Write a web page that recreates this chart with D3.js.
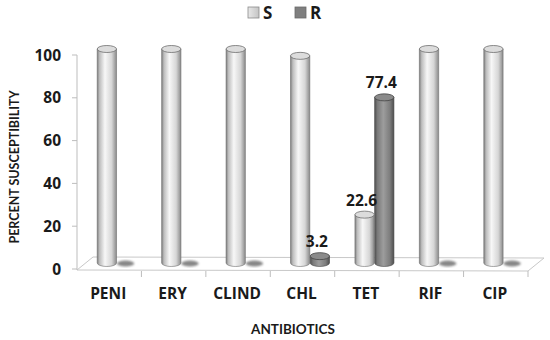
<!DOCTYPE html>
<html>
<head>
<meta charset="utf-8">
<script src="https://cdn.jsdelivr.net/npm/d3@7.9.0/dist/d3.min.js"></script>
<style>
  html, body { margin: 0; padding: 0; background: #fff; }
  svg { display: block; font-family: Lato, "Open Sans", sans-serif; }
  .big { font-family: "Open Sans", Lato, sans-serif; font-weight: bold; fill: #1a1a1a; }
</style>
</head>
<body>
<svg id="chart" width="550" height="340"></svg>
<script>
// --- Data ---
const categories = ['PENI', 'ERY', 'CLIND', 'CHL', 'TET', 'RIF', 'CIP'];
const seriesNames = ['S', 'R'];
const sValues = [100, 100, 100, 96.8, 22.6, 100, 100];
const rValues = [0, 0, 0, 3.2, 77.4, 0, 0];
const yTicks = [0, 20, 40, 60, 80, 100];
// labels shown above bars: [category, series, text]
const valueLabels = [['CHL', 'R', '3.2'], ['TET', 'S', '22.6'], ['TET', 'R', '77.4']];

const svg = d3.select('#chart');

// --- Scales ---
const x0 = d3.scaleBand().domain(categories).range([77, 528]);
const x1 = d3.scaleBand().domain(seriesNames).range([0, 39]).paddingInner(0.02);
const y = d3.scaleLinear().domain([0, 100]).range([269, 55]);

// 3D depth offset (bars stand mid-depth on the floor)
const dx = 8, dy = -6;
const depthX = 16, depthY = -12;
const rx = x1.bandwidth() / 2, ry = 3.5;

const barCenter = (cat, s) => x0(cat) + x0.bandwidth() / 2 - 20 + dx + x1(s) + rx;

// --- Gradients ---
const defs = svg.append('defs');
function cylGrad(id, stops) {
  const g = defs.append('linearGradient').attr('id', id)
    .attr('x1', '0%').attr('x2', '100%').attr('y1', '0%').attr('y2', '0%');
  stops.forEach(([o, c]) => g.append('stop').attr('offset', o).attr('stop-color', c));
}
cylGrad('gS', [['0%', '#7d7d7d'], ['12%', '#bdbdbd'], ['40%', '#f7f7f7'], ['75%', '#d6d6d6'], ['100%', '#8a8a8a']]);
cylGrad('gR', [['0%', '#505050'], ['15%', '#7a7a7a'], ['45%', '#9d9d9d'], ['80%', '#7c7c7c'], ['100%', '#4e4e4e']]);
cylGrad('gLegS', [['0%', '#e8e8e8'], ['100%', '#c4c4c4']]);
defs.append('filter').attr('id', 'blur').append('feGaussianBlur').attr('stdDeviation', 1.3);

// --- Floor ---
const [fx0, fx1] = x0.range();
const fy = y(0);
svg.append('path')
  .attr('d', `M${fx0},${fy + 1}L${fx1},${fy + 2}L${fx1 + depthX},${fy + depthY + 1}L${fx0 + depthX},${fy + depthY}Z`)
  .attr('fill', '#fff').attr('stroke', '#c8c8c8').attr('stroke-width', 1);

// --- Y axis ---
svg.append('line').attr('x1', 77).attr('x2', 77).attr('y1', y(100)).attr('y2', y(0) + 1)
  .attr('stroke', '#bdbdbd');
const yg = svg.append('g');
yTicks.forEach(t => {
  yg.append('line').attr('x1', 72).attr('x2', 77).attr('y1', y(t)).attr('y2', y(t)).attr('stroke', '#bdbdbd');
  yg.append('text').attr('class', 'big').attr('x', 61).attr('y', y(t)).attr('dy', '0.36em')
    .attr('text-anchor', 'end').attr('font-size', 15.5).text(t);
});

// --- Category ticks and labels ---
const xg = svg.append('g');
categories.forEach(c => {
  const xr = x0(c) + x0.bandwidth();
  xg.append('line').attr('x1', xr).attr('x2', xr).attr('y1', fy + 2).attr('y2', fy + 8).attr('stroke', '#bdbdbd');
  xg.append('text').attr('class', 'big').attr('x', x0(c) + x0.bandwidth() / 2 - 1).attr('y', 299)
    .attr('text-anchor', 'middle').attr('font-size', 15.5).text(c);
});

// --- Cylinders ---
const bars = [];
categories.forEach((c, i) => {
  bars.push({ cat: c, s: 'S', v: sValues[i] });
  bars.push({ cat: c, s: 'R', v: rValues[i] });
});

const bg = svg.append('g');
bars.forEach(d => {
  const cx = barCenter(d.cat, d.s);
  const base = y(0) + dy;
  const top = y(d.v) + dy;
  const g = bg.append('g');
  if (d.v === 0) {
    // flat shadow for an empty bar
    g.append('ellipse').attr('cx', cx - 1).attr('cy', base + 0.5).attr('rx', rx - 1).attr('ry', ry - 0.5)
      .attr('fill', '#555').attr('opacity', 0.7).attr('filter', 'url(#blur)');
    return;
  }
  const edge = d.s === 'S' ? '#6e6e6e' : '#444';
  g.append('path')
    .attr('d', `M${cx - rx},${top}L${cx - rx},${base}A${rx},${ry} 0 0 0 ${cx + rx},${base}L${cx + rx},${top}Z`)
    .attr('fill', `url(#g${d.s})`).attr('stroke', edge).attr('stroke-width', 0.6);
  g.append('ellipse').attr('cx', cx).attr('cy', top).attr('rx', rx).attr('ry', ry)
    .attr('fill', d.s === 'S' ? '#dcdcdc' : '#8a8a8a').attr('stroke', edge).attr('stroke-width', 0.8);
});
// S bars drawn over the shadows of the empty R bars
bg.selectAll('g').filter((_, i) => i % 2 === 0).raise();

// --- Value labels ---
valueLabels.forEach(([c, s, t]) => {
  const i = categories.indexOf(c);
  const v = s === 'S' ? sValues[i] : rValues[i];
  svg.append('text').attr('class', 'big').attr('x', barCenter(c, s) - 3).attr('y', y(v) + dy - 9)
    .attr('text-anchor', 'middle').attr('font-size', 15.5).text(t);
});

// --- Axis titles ---
svg.append('text').attr('transform', 'translate(19,167) rotate(-90)')
  .attr('text-anchor', 'middle').attr('font-size', 12.5).attr('font-weight', 'bold')
  .attr('fill', '#1a1a1a').text('PERCENT SUSCEPTIBILITY');
svg.append('text').attr('x', 293).attr('y', 334)
  .attr('text-anchor', 'middle').attr('font-size', 13.5).attr('font-weight', 'bold')
  .attr('fill', '#1a1a1a').text('ANTIBIOTICS');

// --- Legend ---
const legend = [{ s: 'S', x: 248, fill: 'url(#gLegS)', stroke: '#8a8a8a' },
                { s: 'R', x: 295, fill: '#7f7f7f', stroke: '#6a6a6a' }];
legend.forEach(l => {
  svg.append('rect').attr('x', l.x).attr('y', 7).attr('width', 11).attr('height', 11)
    .attr('fill', l.fill).attr('stroke', l.stroke).attr('stroke-width', 0.8);
  svg.append('text').attr('class', 'big').attr('x', l.x + 15).attr('y', 19).attr('font-size', 17)
    .text(l.s);
});
</script>
</body>
</html>
